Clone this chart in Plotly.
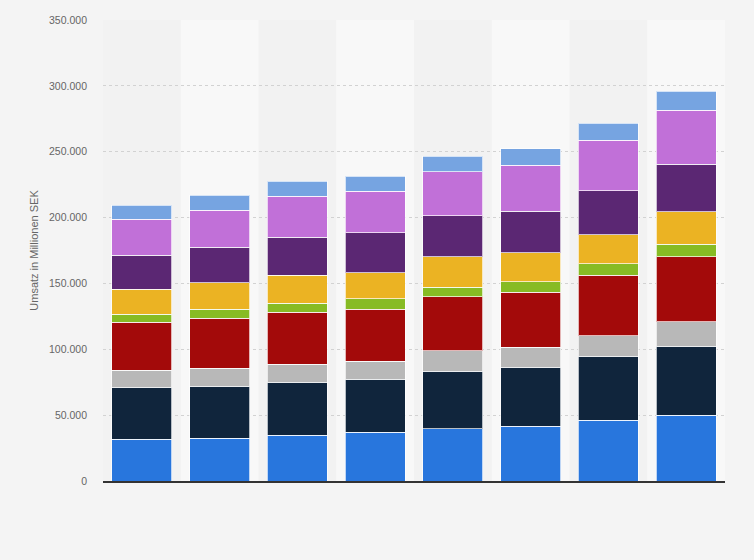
import plotly.graph_objects as go

# Umsatz in Millionen SEK, gestapelt
categories = ["2010", "2011", "2012", "2013", "2014", "2015", "2016", "2017"]

seg_1 = [31600, 32400, 34700, 37200, 39500, 41700, 46300, 50100]
seg_2 = [39500, 39400, 40200, 40000, 44000, 44500, 48500, 52100]
seg_3 = [13100, 13900, 13600, 13800, 15400, 15500, 15500, 18700]
seg_4 = [36400, 37700, 39500, 39500, 40900, 41700, 46000, 49300]
seg_5 = [5900, 6900, 7000, 7800, 7400, 7800, 8600, 9600]
seg_6 = [18900, 20200, 21300, 20000, 23000, 22000, 22000, 24500]
seg_7 = [26100, 27000, 28800, 30100, 31100, 31600, 33400, 36200]
seg_8 = [27300, 28100, 31100, 31600, 33400, 34900, 38400, 41000]
seg_9 = [10400, 11200, 11400, 11400, 11900, 12400, 13100, 14400]

series = [
    ("Segment 1", seg_1, "#2876dd"),
    ("Segment 2", seg_2, "#10253c"),
    ("Segment 3", seg_3, "#b8b8b8"),
    ("Segment 4", seg_4, "#a30a0a"),
    ("Segment 5", seg_5, "#87bb24"),
    ("Segment 6", seg_6, "#ebb323"),
    ("Segment 7", seg_7, "#5b2773"),
    ("Segment 8", seg_8, "#c170d8"),
    ("Segment 9", seg_9, "#76a4e1"),
]

fig = go.Figure()
for name, vals, col in series:
    fig.add_trace(go.Bar(
        x=categories, y=vals, name=name,
        marker=dict(color=col, line=dict(color="rgba(255,255,255,0.7)", width=1)),
    ))

# helle Streifen hinter jeder zweiten Kategorie
shapes = []
for i in range(len(categories)):
    if i % 2 == 1:
        shapes.append(dict(type="rect", xref="x", yref="paper",
                           x0=i - 0.5, x1=i + 0.5, y0=0, y1=1,
                           fillcolor="#f8f8f8", line_width=0, layer="below"))

fig.update_layout(
    width=754, height=560,
    barmode="stack", bargap=0.23,
    showlegend=False,
    separators=",.",
    paper_bgcolor="#f4f4f4", plot_bgcolor="#f2f2f2",
    margin=dict(l=103, r=29, t=20, b=79),
    font=dict(family="Liberation Sans, Arial, sans-serif", size=11, color="#666666"),
    shapes=shapes,
    xaxis=dict(showticklabels=False, showgrid=False, ticks="",
               showline=True, linecolor="#333333", linewidth=2,
               range=[-0.5, len(categories) - 0.5]),
    yaxis=dict(range=[0, 350000], tickvals=[0, 50000, 100000, 150000, 200000, 250000, 300000, 350000],
               tickformat=",d", showgrid=True, gridcolor="#d2d2d2", griddash="dot", gridwidth=1,
               zeroline=False, ticks="", ticklabelstandoff=15,
               tickfont=dict(size=10.5, color="#666666"),
               title=dict(text="Umsatz in Millionen SEK", standoff=8,
                          font=dict(size=11, color="#666666"))),
)

fig.write_html("out.html", config={"displayModeBar": False},
               post_script="document.body.style.margin='0';document.body.style.background='#f4f4f4';")
